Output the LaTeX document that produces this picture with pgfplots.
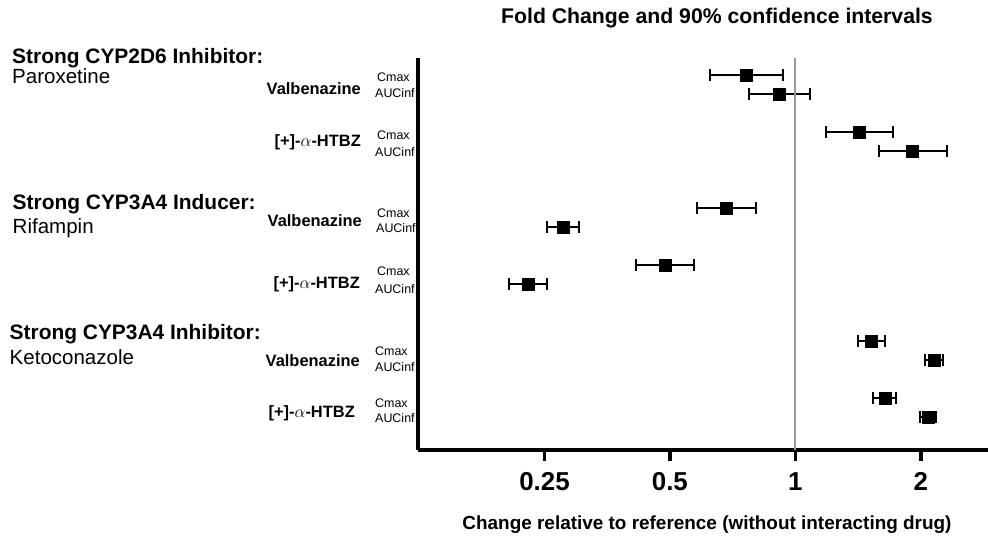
\documentclass[border=0pt]{standalone}
\usepackage{fontspec}
\setmainfont{Liberation Sans}
\usepackage{pgfplots}
\pgfplotsset{compat=1.18}
\usepackage{pgfplotstable}

\pgfplotstableread{
row x lo hi
0 0.764 0.624 0.932
1 0.913 0.774 1.083
3 1.426 1.184 1.717
4 1.91 1.584 2.31
7 0.684 0.580 0.806
8 0.277 0.254 0.302
10 0.486 0.414 0.571
11 0.228 0.206 0.254
14 1.518 1.41 1.64
15 2.15 2.045 2.26
17 1.64 1.54 1.74
18 2.08 1.99 2.17
}\datatable

\begin{document}
\begin{tikzpicture}
\path[use as bounding box] (0,0) rectangle (988bp,542bp);
\begin{axis}[
  at={(418bp,92bp)}, anchor=south west,
  scale only axis, width=570bp, height=392bp,
  xmode=log, log basis x=2,
  xmin=0.1243, xmax=2.9,
  ymin=-0.895, ymax=19.74, y dir=reverse,
  axis x line*=bottom, axis y line*=left,
  axis line style={line width=3.5bp, black},
  ytick=\empty,
  xtick={0.25,0.5,1,2},
  xticklabels={\textbf{0.25},\textbf{0.5},\textbf{1},\textbf{2}},
  xticklabel style={font=\fontsize{26}{30}\selectfont\bfseries, anchor=north, yshift=-8bp},
  tick align=outside,
  major tick length=11bp,
  x tick style={line width=3.5bp, black},
  clip=false,
]
\addplot[only marks, mark=square*, mark size=6bp, black,
  error bars/.cd, x dir=both, x explicit,
  error mark=|,
  error bar style={line width=2bp, black},
  error mark options={line width=2bp, mark size=6bp, black}]
  table[x=x, y=row,
    x error plus expr=\thisrow{hi}-\thisrow{x},
    x error minus expr=\thisrow{x}-\thisrow{lo}] {\datatable};
\addplot[color=black!40, line width=2bp] coordinates {(1,-0.895) (1,19.74)};
\end{axis}

\begin{scope}[x=1bp, y=-1bp, shift={(0,-542)}]
\node[font=\fontsize{21.3}{25}\selectfont\bfseries] at (717,18) {Fold Change and 90\% confidence intervals};
\node[font=\fontsize{19}{22}\selectfont\bfseries] at (707,525) {Change relative to reference (without interacting drug)};

\tikzset{hdr/.style={anchor=base west, inner sep=0pt, font=\fontsize{21}{25}\selectfont\bfseries},
         sub/.style={anchor=base west, inner sep=0pt, font=\fontsize{20.6}{25}\selectfont},
         drug/.style={anchor=base east, inner sep=0pt, font=\fontsize{16.5}{20}\selectfont\bfseries},
         pk/.style={anchor=base west, inner sep=0pt, font=\fontsize{12.5}{15}\selectfont}}
% group 1
\node[hdr] at (12,63.5) {Strong CYP2D6 Inhibitor:};
\node[sub] at (12,84) {Paroxetine};
\node[drug] at (361,95) {Valbenazine};
\node[pk] at (377,81.5) {Cmax};
\node[pk] at (375,97.5) {AUCinf};
\node[drug] at (361,147) {[+]-$\alpha$-HTBZ};
\node[pk] at (377,140) {Cmax};
\node[pk] at (375,156) {AUCinf};
% group 2
\node[hdr] at (12.5,209) {Strong CYP3A4 Inducer:};
\node[sub] at (12.5,233) {Rifampin};
\node[drug] at (362,226) {Valbenazine};
\node[pk] at (377,217) {Cmax};
\node[pk] at (376,232) {AUCinf};
\node[drug] at (360,288) {[+]-$\alpha$-HTBZ};
\node[pk] at (377,275.5) {Cmax};
\node[pk] at (375,293.5) {AUCinf};
% group 3
\node[hdr] at (9.5,339) {Strong CYP3A4 Inhibitor:};
\node[sub] at (9.5,364) {Ketoconazole};
\node[drug] at (360,366) {Valbenazine};
\node[pk] at (375,355) {Cmax};
\node[pk] at (375,371) {AUCinf};
\node[drug] at (355,417) {[+]-$\alpha$-HTBZ};
\node[pk] at (375,407) {Cmax};
\node[pk] at (375,422.5) {AUCinf};
\end{scope}
\end{tikzpicture}
\end{document}
